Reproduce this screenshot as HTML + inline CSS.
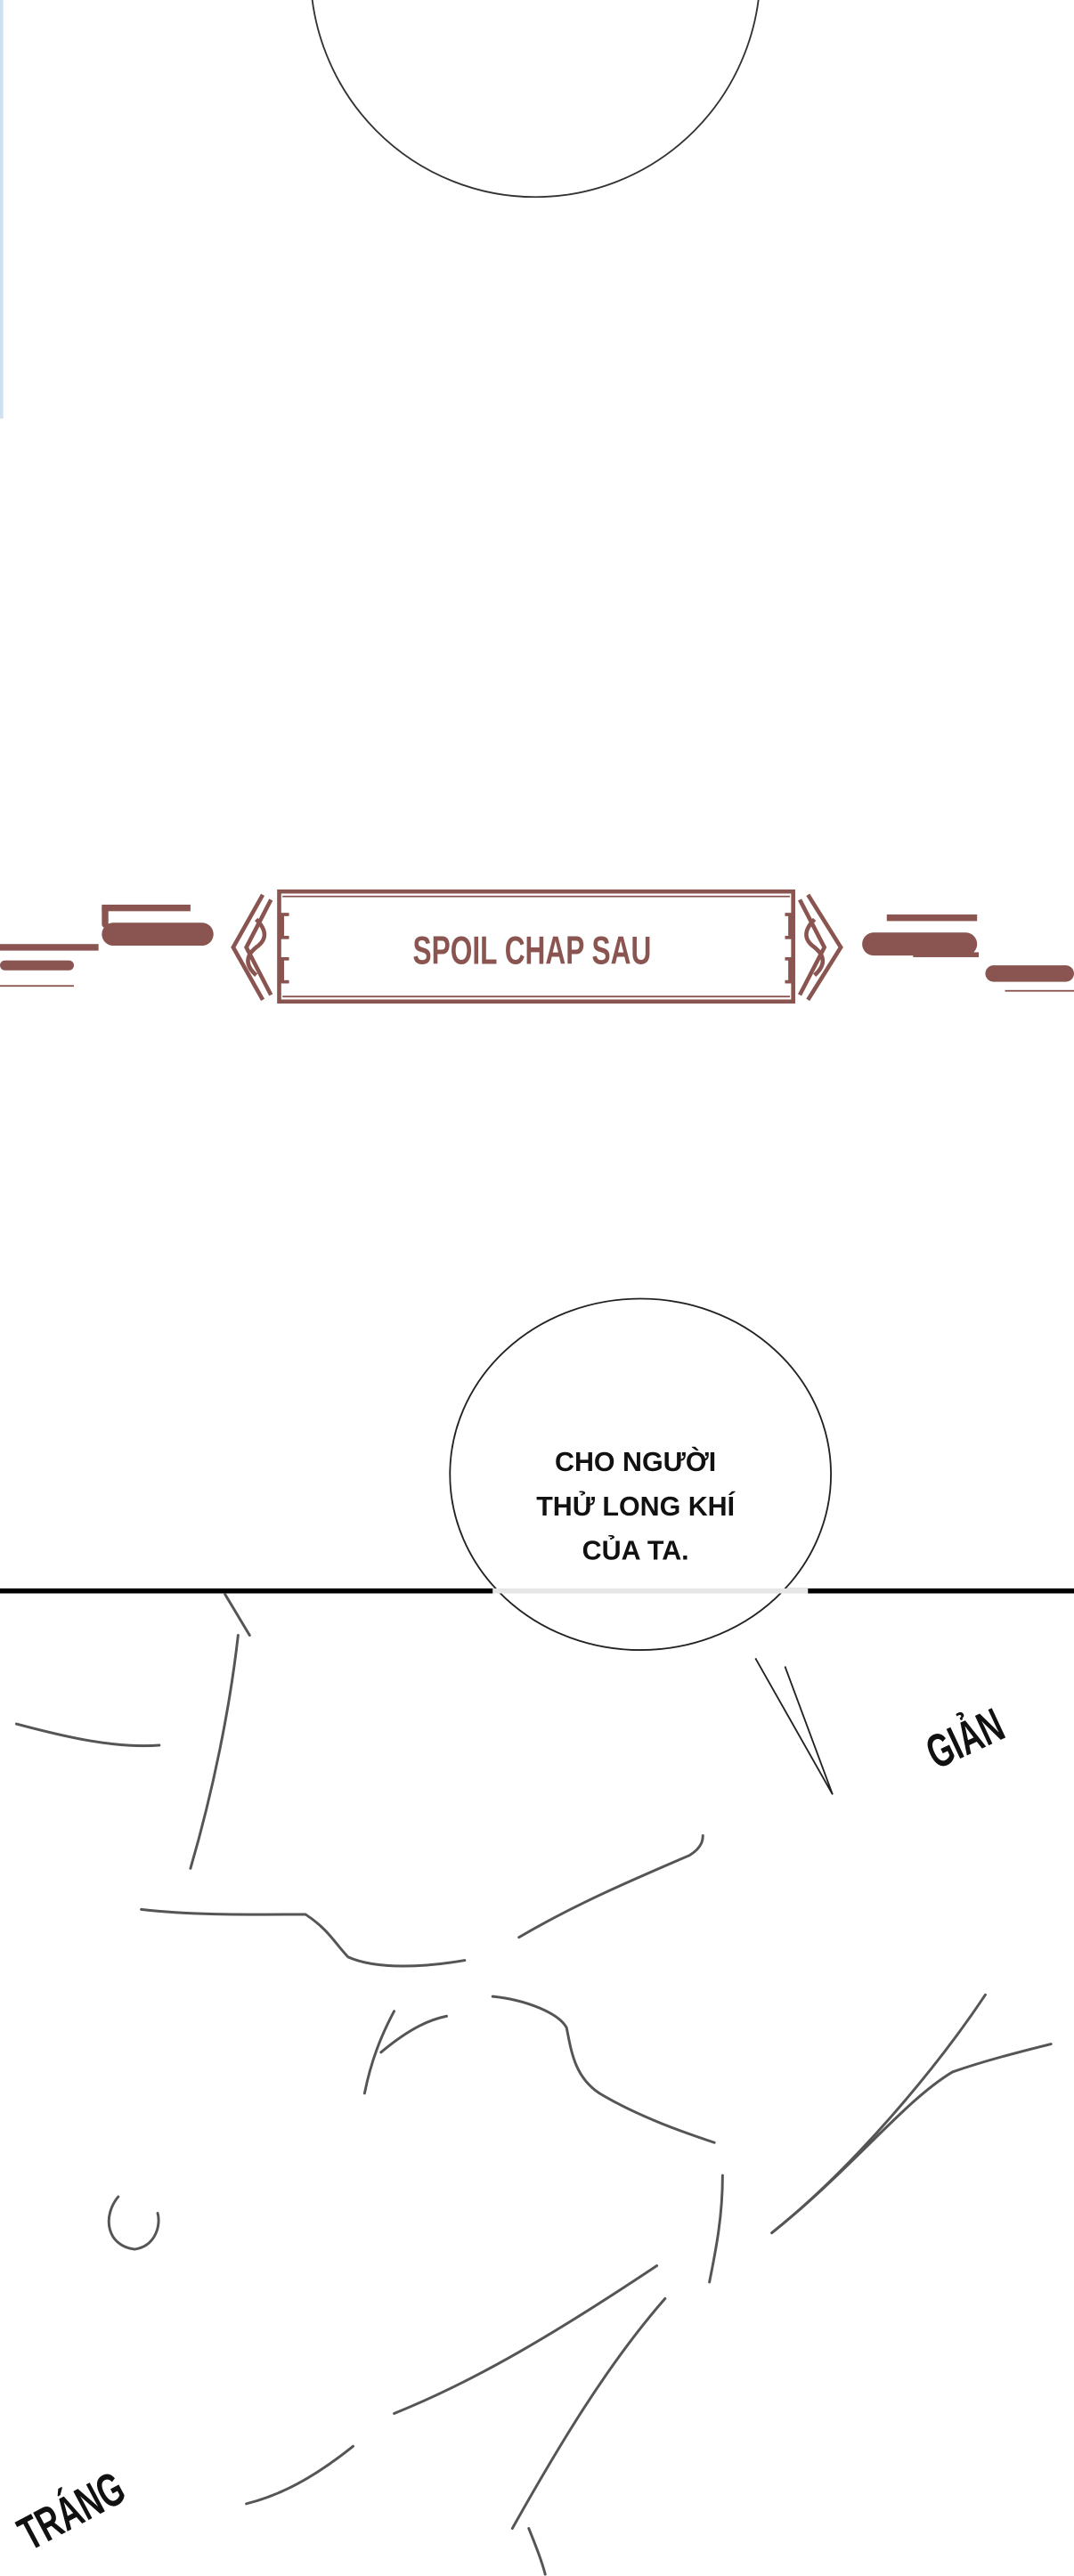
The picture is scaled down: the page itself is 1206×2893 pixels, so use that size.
<!DOCTYPE html>
<html><head><meta charset="utf-8"><style>
html,body{margin:0;padding:0;background:#fff}
svg{display:block}
</style></head><body>
<svg width="1206" height="2893" viewBox="0 0 654 1569" preserveAspectRatio="none" xmlns="http://www.w3.org/2000/svg">
<rect width="654" height="1569" fill="#fff"/>
<line x1="1" y1="0" x2="1" y2="255" stroke="#cfe0f0" stroke-width="2"/>
<ellipse cx="326" cy="-18" rx="137" ry="138" fill="none" stroke="#333" stroke-width="1"/>
<g fill="none" stroke="#8a5550">
<rect x="170" y="543" width="313" height="67" stroke-width="2.5"/>
<line x1="172" y1="546" x2="481" y2="546" stroke-width="1"/>
<line x1="172" y1="607" x2="481" y2="607" stroke-width="1"/>
<path d="M160 545 L142 577 L160 609 M165 548 L150 577 L165 606 M156 560 q10 10 0 17 q-10 8 0 17" stroke-width="2.5"/>
<path d="M492 545 L512 577 L492 609 M487 548 L502 577 L487 606 M496 560 q-10 10 0 17 q10 8 0 17" stroke-width="2.5"/>
<rect x="172" y="557" width="8" height="14" stroke-width="2"/><rect x="172" y="584" width="8" height="14" stroke-width="2"/>
<rect x="473" y="557" width="8" height="14" stroke-width="2"/><rect x="473" y="584" width="8" height="14" stroke-width="2"/>
</g>
<g fill="#8a5550">
<rect x="62" y="551" width="54" height="4"/><rect x="62" y="551" width="4" height="14" rx="2"/>
<rect x="62" y="562" width="68" height="14" rx="7"/>
<rect x="0" y="575" width="60" height="4"/><rect x="0" y="585" width="45" height="6" rx="3"/>
<rect x="0" y="600" width="45" height="1"/>
<rect x="540" y="557" width="55" height="4"/><rect x="525" y="568" width="70" height="14" rx="7"/>
<rect x="556" y="580" width="40" height="3"/>
<rect x="600" y="588" width="54" height="10" rx="5"/><rect x="612" y="603" width="42" height="1"/>
</g>
<rect x="176" y="549" width="302" height="56" fill="#fff"/>
<text x="324" y="587" text-anchor="middle" font-family="Liberation Sans, sans-serif" font-weight="bold" font-size="22" fill="#8a5550" transform="translate(324 587) scale(0.78 1.1) translate(-324 -587)">SPOIL CHAP SAU</text>
<line x1="0" y1="969" x2="654" y2="969" stroke="#000" stroke-width="3"/>
<path d="M460 1010 L507 1093 L478 1015" fill="#fff" stroke="#222" stroke-width="1"/>
<ellipse cx="390" cy="898" rx="116" ry="107" fill="#fff" stroke="#222" stroke-width="1"/>
<line x1="300" y1="969" x2="492" y2="969" stroke="#e6e6e6" stroke-width="3"/>
<g font-family="Liberation Sans, sans-serif" font-weight="bold" font-size="16.5" fill="#111" text-anchor="middle">
<text x="387" y="896">CHO NGƯỜI</text>
<text x="387" y="923">THỬ LONG KHÍ</text>
<text x="387" y="950">CỦA TA.</text>
</g>
<text x="0" y="0" font-family="Liberation Sans, sans-serif" font-weight="bold" font-size="24" fill="#111" transform="translate(570 1078) rotate(-25) scale(0.8 1.2)">GIẢN</text>
<text x="0" y="0" font-family="Liberation Sans, sans-serif" font-weight="bold" font-size="24" fill="#111" transform="translate(18 1554) rotate(-28) scale(0.8 1.2)">TRÁNG</text>
<g fill="none" stroke="#555" stroke-width="1.6" stroke-linecap="round">
<path d="M137 971 L152 996"/>
<path d="M145 996 C140 1040 130 1090 116 1138"/>
<path d="M10 1050 C40 1058 70 1065 97 1063"/>
<path d="M86 1163 C120 1167 160 1166 186 1166 C200 1175 205 1185 212 1192 C230 1200 260 1198 283 1194"/>
<path d="M316 1180 C350 1160 385 1145 420 1130 C428 1125 428 1120 428 1118"/>
<path d="M300 1216 C320 1218 340 1226 345 1235 C348 1250 350 1265 365 1275 C390 1290 420 1300 435 1305"/>
<path d="M240 1225 C232 1240 226 1255 222 1275"/>
<path d="M232 1250 C250 1235 262 1230 272 1228"/>
<path d="M440 1325 C440 1350 436 1370 432 1390"/>
<path d="M600 1215 C570 1260 520 1320 470 1360"/>
<path d="M470 1360 C520 1320 550 1280 580 1262 C600 1255 620 1250 640 1245"/>
<path d="M400 1380 C340 1420 290 1450 240 1470"/>
<path d="M405 1400 C370 1440 340 1490 312 1540"/>
<path d="M215 1490 C190 1510 170 1520 150 1525"/>
<path d="M322 1540 C326 1550 330 1560 332 1568"/>
<path d="M72 1338 C62 1350 65 1368 82 1370 C95 1368 98 1355 96 1348"/>
</g>
</svg>
</body></html>
